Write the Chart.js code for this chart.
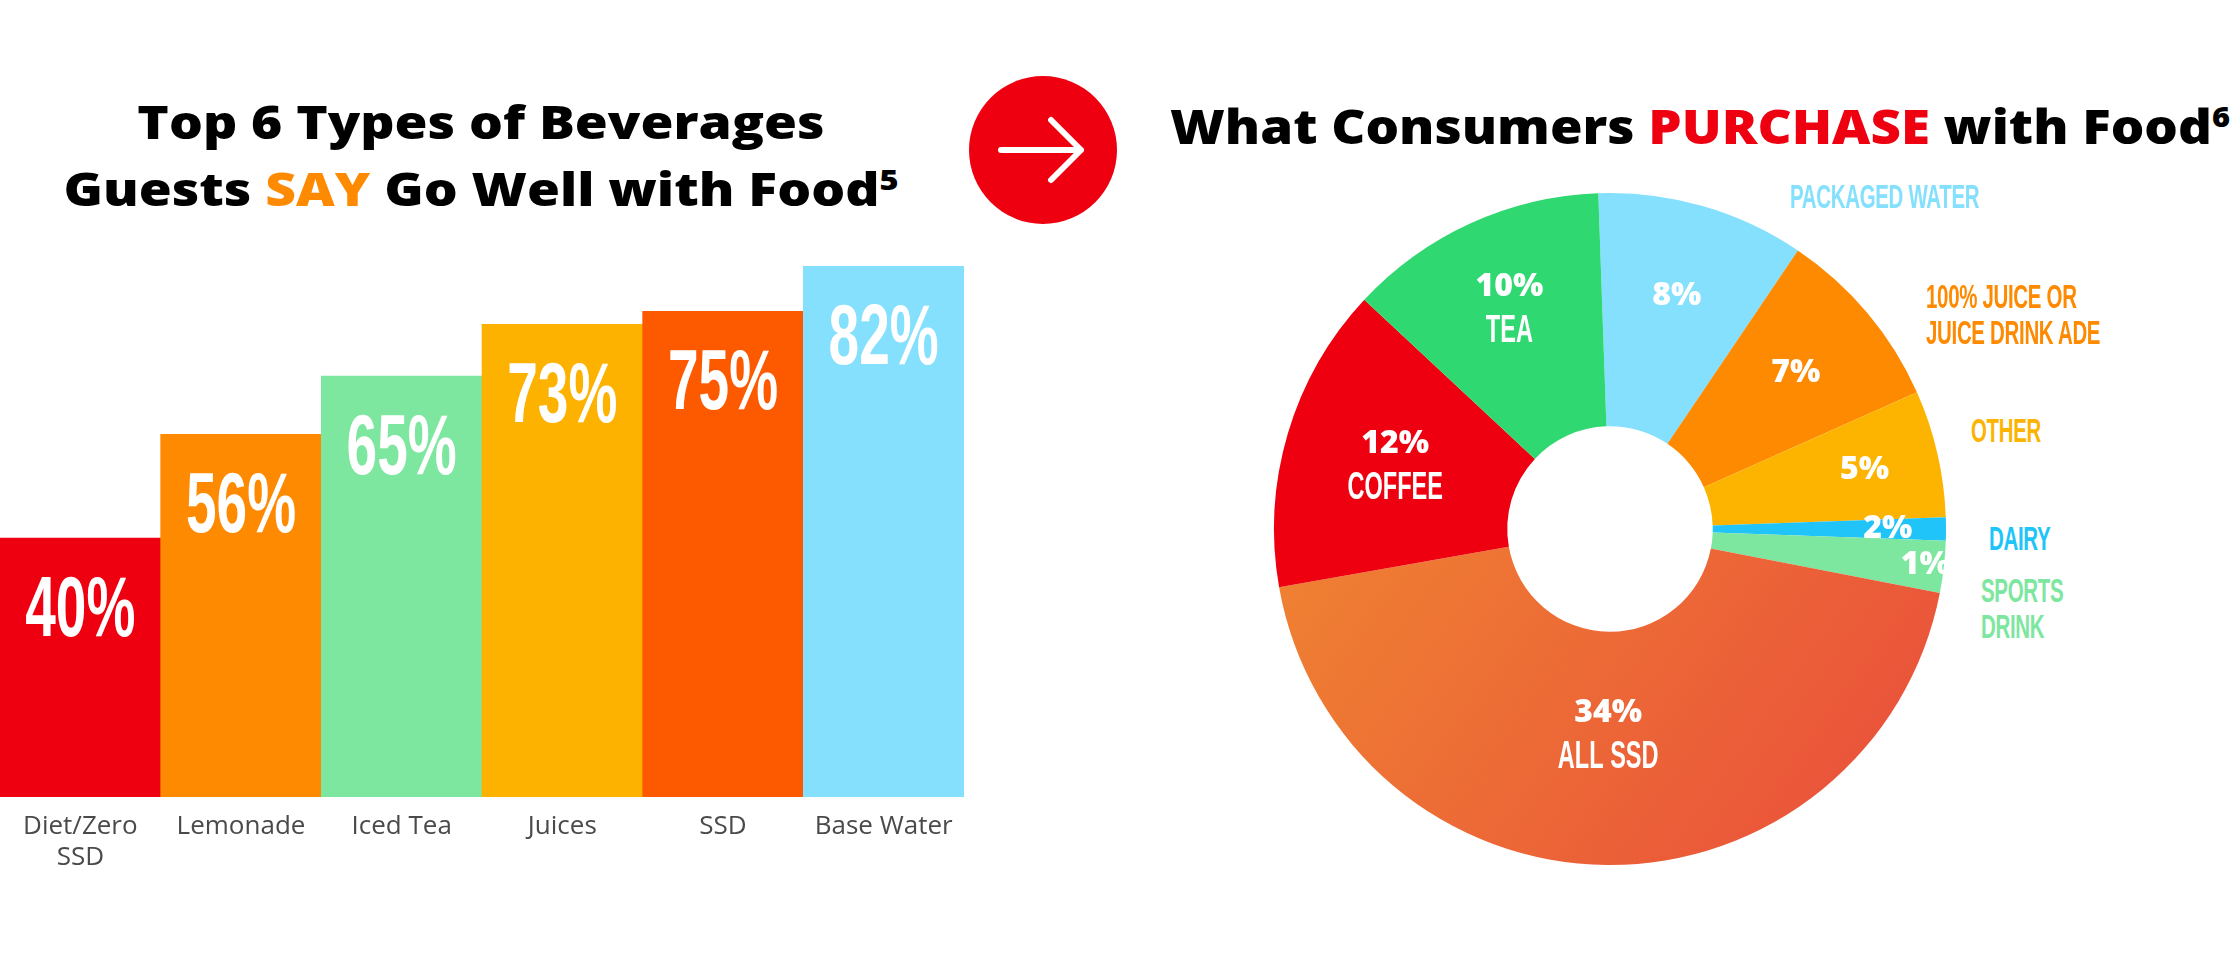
<!DOCTYPE html>
<html><head><meta charset="utf-8">
<script src="https://cdn.jsdelivr.net/npm/chart.js@4/dist/chart.umd.min.js"></script>
<style>
body{margin:0;width:2240px;height:961px;background:#fff;position:relative;overflow:hidden;font-family:"Open Sans",sans-serif}
.t{position:absolute;font-weight:800;color:#000;text-align:center;white-space:nowrap;font-family:"Open Sans",sans-serif}
.o{position:absolute;font-family:"Liberation Sans","DejaVu Sans",sans-serif;font-weight:bold;font-size:33px;line-height:36px;white-space:nowrap;transform:scaleX(0.62);transform-origin:0 0;letter-spacing:-0.5px}
</style></head><body>
<div class="t" style="left:60px;width:842px;top:92px;font-size:46px;line-height:58px;transform:scaleX(1.16)">Top 6 Types of Beverages<br>Guests <span style="color:#fd8a00">SAY</span> Go Well with Food<sup style="font-size:28px">5</sup></div>
<div class="t" style="left:1160px;width:1080px;top:86px;font-size:48px;line-height:60px;transform:scaleX(1.10)">What Consumers <span style="color:#ee0011">PURCHASE</span> with Food<sup style="font-size:28px">6</sup></div>
<svg style="position:absolute;left:969px;top:76px" width="148" height="148"><circle cx="74" cy="74" r="74" fill="#ee0011"/><path d="M32 74 H112 M82 44 L112 74 L82 104" stroke="#fff" stroke-width="6" fill="none" stroke-linecap="round" stroke-linejoin="round"/></svg>
<div style="position:absolute;left:0;top:266px;width:964px;height:641px"><canvas id="bar"></canvas></div>
<div style="position:absolute;left:1260px;top:179px;width:700px;height:700px"><canvas id="pie"></canvas></div>
<div class="o" style="left:1790px;top:179px;color:#84e0fd">PACKAGED WATER</div>
<div class="o" style="left:1926px;top:279px;color:#fd8a00">100% JUICE OR<br>JUICE DRINK ADE</div>
<div class="o" style="left:1971px;top:413px;color:#fdb400">OTHER</div>
<div class="o" style="left:1989px;top:521px;color:#21c4f9">DAIRY</div>
<div class="o" style="left:1981px;top:573px;color:#7de69f">SPORTS<br>DRINK</div>
<script>
const barCategories=[["Diet/Zero","SSD"],"Lemonade","Iced Tea","Juices","SSD","Base Water"];
const barValues=[40,56,65,73,75,82];
const barColors=["#ee0011","#fd8a00","#7de69f","#fdb200","#fd5a00","#84e0fd"];

const pieCategories=["Packaged Water","100% Juice or Juice Drink Ade","Other","Dairy","Sports Drink","All SSD","Coffee","Tea"];
const pieShares=[8,7,5,2,1,34,12,10];
const pieArcDegrees=[36,32,22,4,9,159,53,45];
const pieNames=["","","","","","ALL SSD","COFFEE","TEA"];
const pieColors=["#84e0fd","#fd8a00","#fdb400","#21c4f9","#7de69f","ssd","#ee0011","#2fd870"];
const pieLabelRadius=[0.6,0.6,0.68,0.75,0.92,0.44,0.52,0.6];

function narrow(ctx,text,x,y,font,sx){ctx.save();ctx.translate(x,y);ctx.scale(sx,1);ctx.font=font;ctx.fillText(text,0,0);ctx.restore();}
Chart.defaults.animation=false;
const barLabels={id:'bl',afterDatasetsDraw(c){const ctx=c.ctx;c.getDatasetMeta(0).data.forEach((b,i)=>{ctx.save();ctx.fillStyle='#fff';ctx.textAlign='center';ctx.textBaseline='middle';narrow(ctx,barValues[i]+'%',b.x,b.y+74,'bold 86px "Liberation Sans",sans-serif',0.64);ctx.restore();});}};
new Chart(document.getElementById('bar'),{type:'bar',data:{labels:barCategories,datasets:[{data:barValues,backgroundColor:barColors,categoryPercentage:1,barPercentage:1}]},
options:{responsive:true,maintainAspectRatio:false,layout:{padding:0},plugins:{legend:{display:false},tooltip:{enabled:false}},
scales:{y:{display:false,min:0,max:82},x:{grid:{display:false},border:{display:false},ticks:{color:'#4a4a4a',font:{size:26,family:'"Open Sans",sans-serif'},padding:6},afterFit(s){s.height=110;}}}},plugins:[barLabels]});

const pieLabels={id:'pl',afterDatasetsDraw(c){const ctx=c.ctx;c.getDatasetMeta(0).data.forEach((a,i)=>{const m=(a.startAngle+a.endAngle)/2;const r=a.innerRadius+(a.outerRadius-a.innerRadius)*pieLabelRadius[i];const x=a.x+Math.cos(m)*r,y=a.y+Math.sin(m)*r;ctx.save();ctx.fillStyle='#fff';ctx.textAlign='center';ctx.textBaseline='middle';const two=pieNames[i]!=='';ctx.font='800 32px "Open Sans",sans-serif';ctx.fillText(pieShares[i]+'%',x,two?y-21:y);if(two){narrow(ctx,pieNames[i],x,y+23,'bold 38px "Liberation Sans",sans-serif',0.62);}ctx.restore();});}};
new Chart(document.getElementById('pie'),{type:'doughnut',data:{labels:pieCategories,datasets:[{data:pieArcDegrees,borderWidth:0,backgroundColor(ctx){const col=pieColors[ctx.dataIndex];if(col!=='ssd')return col;const ch=ctx.chart,ca=ch.chartArea;if(!ca)return '#f07a30';const g=ch.ctx.createLinearGradient(ca.left,ca.top+200,ca.right,ca.bottom);g.addColorStop(0,'#f08a30');g.addColorStop(1,'#e94a3c');return g;}}]},
options:{responsive:true,maintainAspectRatio:false,rotation:-2,radius:336,cutout:107,layout:{padding:0},plugins:{legend:{display:false},tooltip:{enabled:false}}},plugins:[pieLabels]});
</script></body></html>
